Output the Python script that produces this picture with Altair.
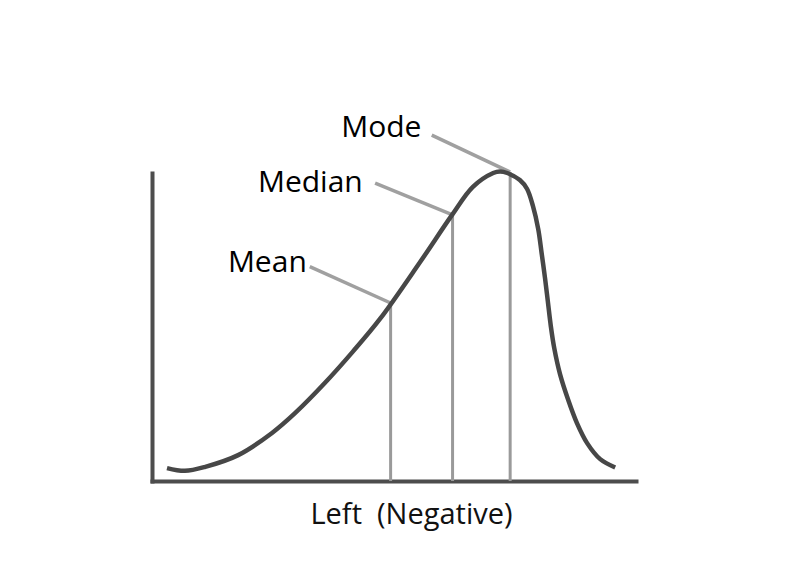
import altair as alt
import pandas as pd

# Curve of a left-skewed distribution (x: 0-100 along the axis, y: 0-100 density)
curve_x = [3.1, 6.8, 11.0, 17.8, 24.8, 29.6, 35.7, 41.5, 47.1, 55.4, 62.0, 66.3,
           70.5, 71.9, 73.4, 76.0, 77.5, 78.7, 79.8, 80.5, 81.2, 81.8, 82.4, 83.1,
           84.3, 86.0, 87.8, 89.9, 92.6, 95.7]
curve_y = [4.2, 3.3, 4.6, 8.4, 15.6, 22.1, 31.8, 42.0, 52.6, 71.1, 86.4, 95.5,
           100.0, 100.5, 100.0, 97.7, 94.8, 89.3, 81.8, 74.0, 65.9, 58.1, 50.3, 43.2,
           34.7, 26.3, 18.8, 12.3, 7.1, 4.4]

# Statistics markers
stat_names = ["Mean", "Median", "Mode"]
stat_x = [49.3, 62.1, 74.0]
stat_top = [57.8, 86.4, 100.3]
stat_base = [0, 0, 0]

# Leader lines (start near label, end at the top of each marker)
leader_x = [32.6, 46.1, 57.8]
leader_y = [69.6, 96.7, 112.3]

# Label anchors
label_x = [16.3, 22.5, 39.7]
label_y = [67.9, 93.8, 111.7]

x_title = "Left\u00a0\u00a0(Negative)"

curve = pd.DataFrame({"x": curve_x, "y": curve_y})
stats = pd.DataFrame({
    "name": stat_names, "x": stat_x, "top": stat_top, "base": stat_base,
    "lx": leader_x, "ly": leader_y, "tx": label_x, "ty": label_y,
})

xs = alt.Scale(domain=[0, 100], nice=False, zero=False)
ys = alt.Scale(domain=[0, 100], nice=False, zero=False)

x_axis = alt.Axis(title=x_title, ticks=False, labels=False, grid=False,
                  domainColor="#4d4d4d", domainWidth=4, domainCap="square",
                  titleFont="Open Sans", titleFontSize=29, titleFontWeight="normal",
                  titleColor="#111111", titleX=259, titleY=42,
                  titleBaseline="alphabetic", titleAlign="center")
y_axis = alt.Axis(title="", ticks=False, labels=False, grid=False,
                  domainColor="#4d4d4d", domainWidth=4, domainCap="square")

rules = alt.Chart(stats).mark_rule(color="#9a9a9a", strokeWidth=3).encode(
    x=alt.X("x:Q", scale=xs, axis=x_axis),
    y=alt.Y("base:Q", scale=ys, axis=y_axis),
    y2="top:Q",
)

leaders = alt.Chart(stats).mark_rule(color="#a0a0a0", strokeWidth=3.5).encode(
    x=alt.X("lx:Q", scale=xs, axis=x_axis),
    y=alt.Y("ly:Q", scale=ys, axis=y_axis),
    x2="x:Q",
    y2="top:Q",
)

line = alt.Chart(curve).mark_line(color="#474747", strokeWidth=4.5,
                                  interpolate="catmull-rom").encode(
    x=alt.X("x:Q", scale=xs, axis=x_axis),
    y=alt.Y("y:Q", scale=ys, axis=y_axis),
)

labels = alt.Chart(stats).mark_text(font="Open Sans", fontSize=30, align="left",
                                    baseline="alphabetic", color="#000000",
                                    dx=-3).encode(
    x=alt.X("tx:Q", scale=xs, axis=x_axis),
    y=alt.Y("ty:Q", scale=ys, axis=y_axis),
    text="name:N",
)

chart = alt.layer(rules, leaders, line, labels).properties(
    width=484, height=308,
    autosize=alt.AutoSizeParams(type="none"),
    padding={"left": 144, "top": 165, "right": 150, "bottom": 93},
    background="white",
).configure_view(stroke=None)

chart.save("out.html", embed_options={"renderer": "svg", "actions": False})
